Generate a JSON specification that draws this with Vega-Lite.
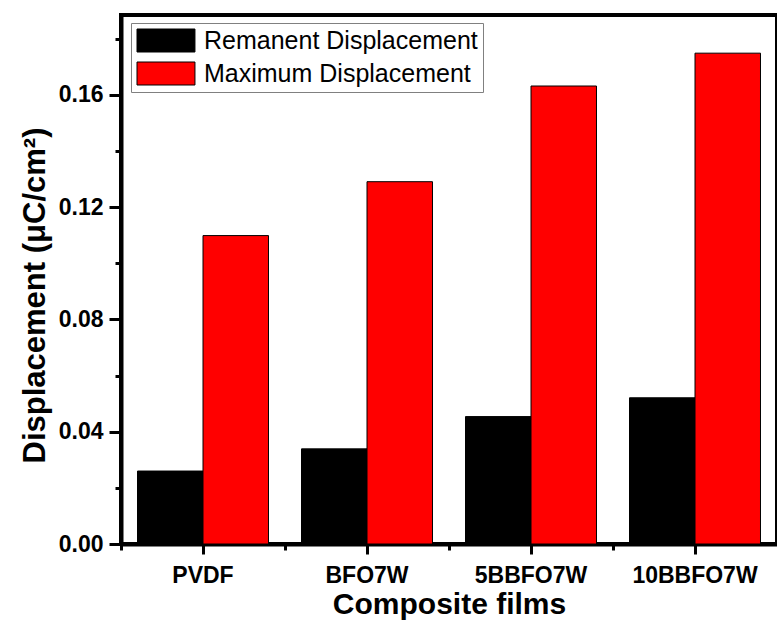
{
  "$schema": "https://vega.github.io/schema/vega-lite/v6.json",
  "width": 656,
  "height": 529,
  "autosize": "none",
  "padding": {"left": 121, "top": 15, "right": 0, "bottom": 79},
  "background": "#ffffff",
  "config": {
    "font": "Liberation Sans",
    "view": {"stroke": "#000000", "strokeWidth": 4},
    "axis": {"grid": false}
  },
  "data": {
    "values": [
      {"film": "PVDF", "type": "Remanent Displacement", "value": 0.026},
      {"film": "PVDF", "type": "Maximum Displacement", "value": 0.1099},
      {"film": "BFO7W", "type": "Remanent Displacement", "value": 0.0339},
      {"film": "BFO7W", "type": "Maximum Displacement", "value": 0.1291},
      {"film": "5BBFO7W", "type": "Remanent Displacement", "value": 0.0454},
      {"film": "5BBFO7W", "type": "Maximum Displacement", "value": 0.1632},
      {"film": "10BBFO7W", "type": "Remanent Displacement", "value": 0.0521},
      {"film": "10BBFO7W", "type": "Maximum Displacement", "value": 0.1749}
    ]
  },
  "layer": [
    {
      "mark": {"type": "bar", "stroke": "#000000", "strokeWidth": 1},
      "encoding": {
        "x": {
          "field": "film", "type": "nominal",
          "sort": ["PVDF", "BFO7W", "5BBFO7W", "10BBFO7W"],
          "scale": {"paddingInner": 0, "paddingOuter": 0},
          "title": "Composite films",
          "axis": {
            "orient": "bottom", "labelFontSize": 23, "labelFontWeight": "bold", "labelColor": "#000000",
            "labelAngle": 0, "labelPadding": 10, "tickSize": 10, "tickWidth": 3, "tickColor": "#000000",
            "domainColor": "#000000", "domainWidth": 4,
            "titleFontSize": 30, "titleFontWeight": "bold", "titleColor": "#000000",
            "titleY": 45, "titleBaseline": "top"
          }
        },
        "xOffset": {
          "field": "type", "type": "nominal",
          "sort": ["Remanent Displacement", "Maximum Displacement"],
          "scale": {"paddingInner": 0, "paddingOuter": 0.252}
        },
        "y": {
          "field": "value", "type": "quantitative", "stack": null,
          "scale": {"domain": [0, 0.1885], "nice": false, "zero": true},
          "title": "Displacement (μC/cm²)",
          "axis": {
            "orient": "left", "values": [0, 0.04, 0.08, 0.12, 0.16], "format": ".2f",
            "labelFontSize": 23, "labelFontWeight": "bold", "labelColor": "#000000", "labelPadding": 6,
            "tickSize": 12, "tickWidth": 3, "tickColor": "#000000",
            "domainColor": "#000000", "domainWidth": 4,
            "titleFontSize": 31, "titleFontWeight": "bold", "titleColor": "#000000",
            "titleX": -70, "titleY": 280, "titleAngle": -90, "titleBaseline": "bottom", "titleAlign": "center"
          }
        },
        "color": {
          "field": "type", "type": "nominal",
          "sort": ["Remanent Displacement", "Maximum Displacement"],
          "scale": {"domain": ["Remanent Displacement", "Maximum Displacement"], "range": ["#000000", "#ff0000"]},
          "legend": {
            "orient": "none", "legendX": 10, "legendY": 8, "title": null, "direction": "vertical",
            "fillColor": "#ffffff", "strokeColor": "#808080",
            "padding": 5, "rowPadding": 6,
            "symbolType": "M-1,-1H4.04V1H-1Z", "symbolSize": 529,
            "symbolStrokeColor": "#000000", "symbolStrokeWidth": 1, "symbolOpacity": 1,
            "labelFontSize": 25, "labelColor": "#000000", "labelOffset": 43, "labelLimit": 600,
            "labelExpr": "datum.label + '\u2002\u2002'"
          }
        }
      }
    },
    {
      "mark": {"type": "bar", "opacity": 0},
      "encoding": {
        "x": {
          "field": "film", "type": "nominal",
          "sort": ["PVDF", "BFO7W", "5BBFO7W", "10BBFO7W"],
          "axis": {
            "orient": "bottom", "bandPosition": 0, "labels": false, "title": null, "domain": false,
            "tickSize": 6, "tickWidth": 3, "tickColor": "#000000"
          }
        },
        "y": {
          "field": "value", "type": "quantitative", "stack": null,
          "axis": {
            "orient": "left", "values": [0.02, 0.06, 0.1, 0.14, 0.18], "labels": false, "title": null,
            "domain": false, "tickSize": 6, "tickWidth": 3, "tickColor": "#000000"
          }
        }
      }
    }
  ],
  "resolve": {"axis": {"x": "independent", "y": "independent"}}
}
